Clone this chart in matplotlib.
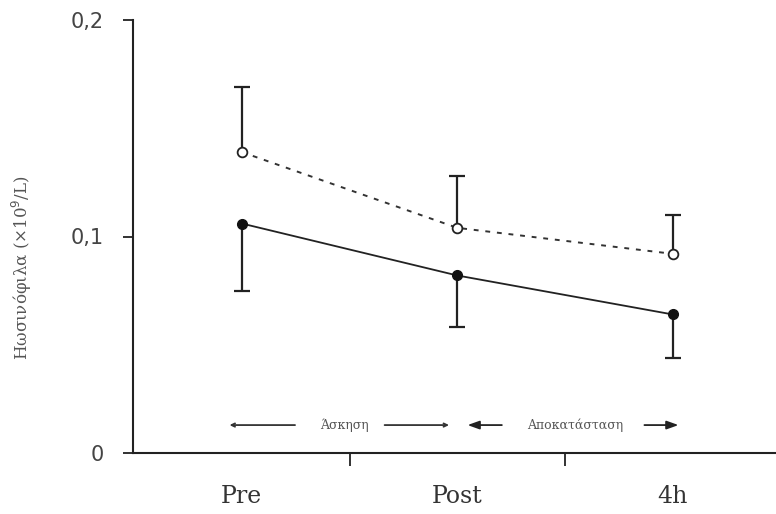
import matplotlib
matplotlib.use("Agg")
import matplotlib.pyplot as plt

# Time points and eosinophil counts (x10^9/L)
categories = ["Pre", "Post", "4h"]
open_mean = [0.139, 0.104, 0.092]
open_err_up = [0.030, 0.024, 0.018]
filled_mean = [0.106, 0.082, 0.064]
filled_err_down = [0.031, 0.024, 0.020]
yticks = [0, 0.1, 0.2]
ytick_labels = ["0", "0,1", "0,2"]

plt.rcParams["font.family"] = ["DejaVu Serif"]

fig = plt.figure(figsize=(7.76, 5.14), dpi=100)
ax = fig.add_axes([133 / 776, 1 - 453 / 514, 642 / 776, 433 / 514])

x = list(range(len(categories)))

# One-sided error bars: upward for the open series, downward for the filled one
eb_open = ax.errorbar(x, open_mean, yerr=[[0] * 3, open_err_up], fmt="none",
                      ecolor="#222222", elinewidth=1.6, capsize=6,
                      capthick=1.6, zorder=2)
eb_open[1][0].remove()
eb_filled = ax.errorbar(x, filled_mean, yerr=[filled_err_down, [0] * 3],
                        fmt="none", ecolor="#222222", elinewidth=1.6,
                        capsize=6, capthick=1.6, zorder=2)
eb_filled[1][1].remove()

ax.plot(x, open_mean, linestyle=(0, (2.5, 3.5)), color="#333333", lw=1.4,
        marker="o", markersize=7, markerfacecolor="white",
        markeredgecolor="#222222", markeredgewidth=1.3, zorder=3)
ax.plot(x, filled_mean, linestyle="-", color="#222222", lw=1.3,
        marker="o", markersize=7, markerfacecolor="#111111",
        markeredgecolor="#111111", zorder=3)

ax.set_xlim(-0.505, 2.475)
ax.set_ylim(0, 0.2)

for side in ["top", "right"]:
    ax.spines[side].set_visible(False)
for side in ["left", "bottom"]:
    ax.spines[side].set_linewidth(1.5)
    ax.spines[side].set_color("#222222")

ax.set_yticks(yticks)
ax.set_yticklabels(ytick_labels, fontsize=15, family=["DejaVu Sans"])
ax.tick_params(axis="y", direction="out", length=7, width=1.3, pad=14,
               colors="#222222", labelcolor="#444444")

ax.set_xticks(x)
ax.set_xticklabels(categories, fontsize=17, color="#333333")
ax.tick_params(axis="x", which="major", length=0, pad=23)
ax.set_xticks([0.5, 1.5], minor=True)
ax.tick_params(axis="x", which="minor", direction="out", length=9, width=1.3,
               colors="#222222")

# Phase annotations along the bottom
ya = 0.0129
head_small = dict(arrowstyle="->,head_length=0.25,head_width=0.12",
                  color="#333333", lw=1.3)
head_big = dict(arrowstyle="-|>,head_length=0.7,head_width=0.25",
                color="#222222", lw=1.3)
ax.annotate("", xy=(-0.07, ya), xytext=(0.26, ya), arrowprops=head_small)
ax.annotate("", xy=(0.975, ya), xytext=(0.65, ya), arrowprops=head_small)
ax.text(0.478, ya, "Άσκηση", ha="center", va="center", fontsize=9,
        color="#555555")
ax.annotate("", xy=(1.035, ya), xytext=(1.22, ya), arrowprops=head_big)
ax.annotate("", xy=(2.04, ya), xytext=(1.856, ya), arrowprops=head_big)
ax.text(1.545, ya, "Αποκατάσταση", ha="center", va="center", fontsize=9,
        color="#555555")

fig.text(22 / 776, 1 - 268 / 514, "Ηωσινόφιλα (×10$^9$/L)", rotation=90,
         ha="center", va="center", fontsize=12, color="#555555")

fig.savefig("out.png", dpi=100, facecolor="white")
